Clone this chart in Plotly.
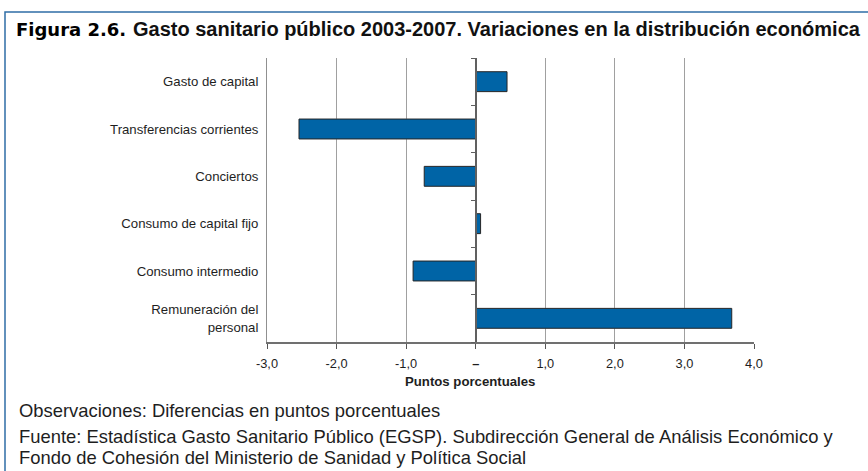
import plotly.graph_objects as go

# Economic categories, listed from bottom to top of the chart
categories = [
    "Remuneración del<br>personal",
    "Consumo intermedio",
    "Consumo de capital fijo",
    "Conciertos",
    "Transferencias corrientes",
    "Gasto de capital",
]
# Change 2003-2007 in percentage points
values = [3.68, -0.90, 0.07, -0.74, -2.54, 0.45]

x_ticks = [-3, -2, -1, 0, 1, 2, 3, 4]
x_ticklabels = ["-3,0", "-2,0", "-1,0", "<b>–</b>", "1,0", "2,0", "3,0", "4,0"]

W, H = 868, 471
L, R, T, B = 267, 114, 58, 129
PW, PH = W - L - R, H - T - B


def px_x(p):
    return (p - L) / PW


def px_y(p):
    return 1 - (p - T) / PH


BAR_BLUE = "#0064a6"
FRAME_BLUE = "#2f6ea6"
TEXT = "#1e1e1e"
BASE_FONT = "Liberation Sans, Arial, sans-serif"

fig = go.Figure()

fig.add_trace(go.Bar(
    x=values, y=categories, orientation="h",
    marker=dict(color=BAR_BLUE, line=dict(color="#262626", width=1)),
    width=0.42, hoverinfo="x+y", yaxis="y2",
))
# transparent copy so the label axis has data of its own
fig.add_trace(go.Bar(
    x=values, y=categories, orientation="h",
    marker=dict(color="rgba(0,0,0,0)"), width=0.42,
    hoverinfo="skip", showlegend=False,
))

fig.update_layout(
    width=W, height=H,
    margin=dict(l=L, r=R, t=T, b=B),
    paper_bgcolor="white", plot_bgcolor="white",
    showlegend=False, barmode="overlay",
    font=dict(family=BASE_FONT, size=11, color=TEXT),
    xaxis=dict(
        range=[-3, 4], tickvals=x_ticks, ticktext=x_ticklabels,
        ticks="outside", ticklen=5, tickcolor="#555", tickwidth=1,
        ticklabelstandoff=4,
        showgrid=True, gridcolor="#a0a0a0", gridwidth=1,
        zeroline=False, showline=True, linecolor="#707070", linewidth=1.5,
        tickfont=dict(size=12.8, color=TEXT),
    ),
    yaxis=dict(
        type="category", categoryarray=categories, range=[-0.5, 5.5],
        showgrid=False, zeroline=False, showline=True, linecolor="#909090", linewidth=1,
        ticks="", ticklabelstandoff=5,
        tickfont=dict(size=13.2, color=TEXT),
    ),
    yaxis2=dict(
        type="category", categoryarray=categories, range=[-0.5, 5.5],
        overlaying="y", anchor="free", position=3 / 7,
        showgrid=False, zeroline=False, showline=True, linecolor="#606060", linewidth=1.5,
        ticks="outside", tickson="boundaries", ticklen=4, tickcolor="#606060",
        showticklabels=False,
    ),
)

# frame around the figure
fig.add_shape(
    type="path", xref="paper", yref="paper",
    path=f"M {px_x(5)} {px_y(480)} L {px_x(5)} {px_y(12)} L {px_x(880)} {px_y(12)}",
    line=dict(color=FRAME_BLUE, width=1.5),
)

annotations = [
    dict(text="<b>Figura 2.6.</b>", x=px_x(14), y=px_y(29),
         font=dict(family="DejaVu Sans, Liberation Sans, Arial", size=18, color="#000")),
    dict(text="<b>Gasto sanitario público 2003-2007. Variaciones en la distribución económica</b>",
         x=px_x(131), y=px_y(29), font=dict(family=BASE_FONT, size=20, color="#111")),
    dict(text="Puntos porcentuales", x=px_x(470), y=px_y(381), xanchor="center",
         font=dict(size=13.2, weight=700, color=TEXT)),
    dict(text="Observaciones: Diferencias en puntos porcentuales", x=px_x(17), y=px_y(410),
         font=dict(size=18.4, color=TEXT)),
    dict(text="Fuente: Estadística Gasto Sanitario Público (EGSP). Subdirección General de Análisis Económico y",
         x=px_x(17), y=px_y(436), font=dict(size=18.4, color=TEXT)),
    dict(text="Fondo de Cohesión del Ministerio de Sanidad y Política Social", x=px_x(17), y=px_y(457),
         font=dict(size=18.4, color=TEXT)),
]
for a in annotations:
    a.setdefault("xanchor", "left")
    fig.add_annotation(xref="paper", yref="paper", yanchor="middle", showarrow=False, **a)

fig.write_html("out.html")
